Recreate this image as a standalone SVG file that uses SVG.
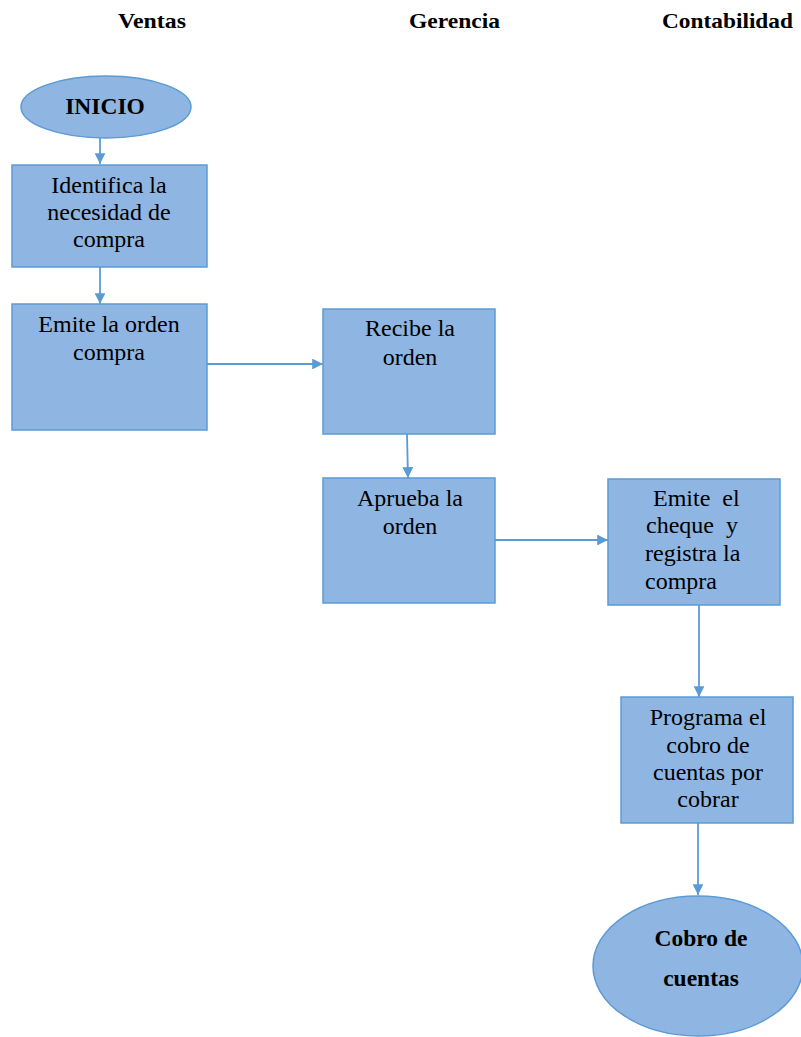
<svg xmlns="http://www.w3.org/2000/svg" width="801" height="1037" viewBox="0 0 801 1037">
<style>
.n{fill:#8FB5E2;stroke:#5B9BD5;stroke-width:1.5}
.t{font-family:"Liberation Serif","Times New Roman",serif;font-size:24px;fill:#000}
.b{font-weight:bold;font-size:23.5px}
.h{font-family:"Liberation Serif","Times New Roman",serif;font-size:21px;font-weight:bold;fill:#000}
.c{fill:none;stroke:#5B9BD5;stroke-width:1.8}
</style>
<defs>
<marker id="ah" viewBox="0 0 10 10" refX="10" refY="5" markerWidth="6" markerHeight="6" orient="auto" markerUnits="strokeWidth">
<path d="M0,0 L10,5 L0,10 z" fill="#5B9BD5"/>
</marker>
</defs>
<rect width="801" height="1037" fill="#fff"/>
<g id="headers">
<text class="h" x="118" y="28" textLength="68" lengthAdjust="spacingAndGlyphs">Ventas</text>
<text class="h" x="409" y="28" textLength="91" lengthAdjust="spacingAndGlyphs">Gerencia</text>
<text class="h" x="662" y="28" textLength="131" lengthAdjust="spacingAndGlyphs">Contabilidad</text>
</g>
<g id="connectors">
<line class="c" x1="100" y1="138" x2="100" y2="164" marker-end="url(#ah)"/>
<line class="c" x1="100" y1="267" x2="100" y2="304" marker-end="url(#ah)"/>
<line class="c" x1="207" y1="364" x2="323" y2="364" marker-end="url(#ah)"/>
<line class="c" x1="407" y1="434" x2="408" y2="478" marker-end="url(#ah)"/>
<line class="c" x1="495" y1="540" x2="608" y2="540" marker-end="url(#ah)"/>
<line class="c" x1="699" y1="605" x2="699" y2="697" marker-end="url(#ah)"/>
<line class="c" x1="698" y1="823" x2="698" y2="895" marker-end="url(#ah)"/>
</g>
<g id="inicio">
<ellipse class="n" cx="106" cy="107" rx="85" ry="31"/>
<text class="t b" x="105" y="114" text-anchor="middle">INICIO</text>
</g>
<g id="identifica">
<rect class="n" x="12" y="165" width="195" height="102"/>
<text class="t" x="109" y="193" text-anchor="middle">Identifica la</text>
<text class="t" x="109" y="220" text-anchor="middle">necesidad de</text>
<text class="t" x="109" y="247" text-anchor="middle">compra</text>
</g>
<g id="emite-orden">
<rect class="n" x="12" y="304" width="195" height="126"/>
<text class="t" x="109" y="332" text-anchor="middle">Emite la orden</text>
<text class="t" x="109" y="360" text-anchor="middle">compra</text>
</g>
<g id="recibe">
<rect class="n" x="323" y="309" width="172" height="125"/>
<text class="t" x="410" y="336" text-anchor="middle">Recibe la</text>
<text class="t" x="410" y="365" text-anchor="middle">orden</text>
</g>
<g id="aprueba">
<rect class="n" x="323" y="478" width="172" height="125"/>
<text class="t" x="410" y="506" text-anchor="middle">Aprueba la</text>
<text class="t" x="410" y="534" text-anchor="middle">orden</text>
</g>
<g id="emite-cheque">
<rect class="n" x="608" y="479" width="172" height="126"/>
<text class="t" x="653" y="506" xml:space="preserve">Emite  el</text>
<text class="t" x="646" y="533" xml:space="preserve">cheque  y</text>
<text class="t" x="645" y="561">registra la</text>
<text class="t" x="645" y="589">compra</text>
</g>
<g id="programa">
<rect class="n" x="621" y="697" width="172" height="126"/>
<text class="t" x="708" y="725" text-anchor="middle">Programa el</text>
<text class="t" x="708" y="753" text-anchor="middle">cobro de</text>
<text class="t" x="708" y="780" text-anchor="middle">cuentas por</text>
<text class="t" x="708" y="807" text-anchor="middle">cobrar</text>
</g>
<g id="cobro">
<ellipse class="n" cx="698" cy="966" rx="105" ry="70"/>
<text class="t b" x="701" y="946" text-anchor="middle">Cobro de</text>
<text class="t b" x="701" y="986" text-anchor="middle">cuentas</text>
</g>
</svg>
